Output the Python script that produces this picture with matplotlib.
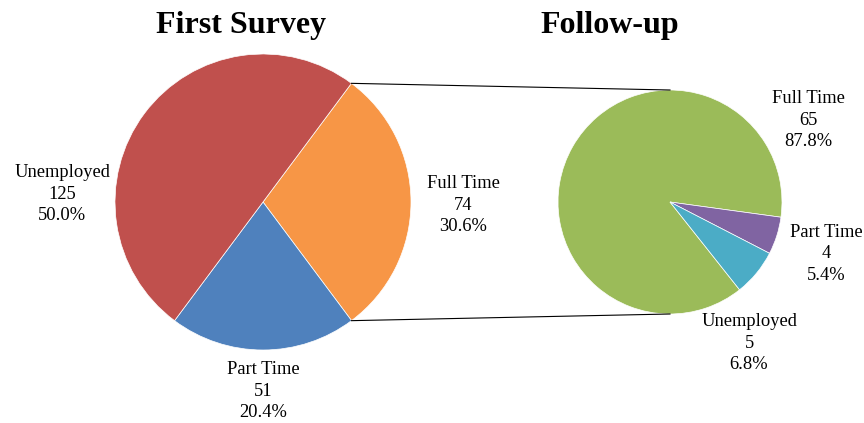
import matplotlib as mpl
mpl.use('Agg')
import matplotlib.pyplot as plt
import numpy as np

# data
first_labels = ['Full Time', 'Part Time', 'Unemployed']
first_values = [74, 51, 125]
first_pcts = ['30.6%', '20.4%', '50.0%']
first_colors = ['#F79646', '#4F81BD', '#C0504D']

follow_labels = ['Full Time', 'Part Time', 'Unemployed']
follow_values = [65, 4, 5]
follow_pcts = ['87.8%', '5.4%', '6.8%']
follow_colors = ['#9BBB59', '#8064A2', '#4BACC6']

W, H = 864, 423
fig = plt.figure(figsize=(W / 100, H / 100), dpi=100)
ax = fig.add_axes([0, 0, 1, 1])

def py(y):
    # pixel row -> data y
    return H - y

c1 = (263, py(202))
r1 = 148
c2 = (670, py(202))
r2 = 112

ax.pie(first_values, colors=first_colors, startangle=53.3,
       counterclock=False, center=c1, radius=r1,
       wedgeprops=dict(edgecolor='white', linewidth=0.5))
ax.pie(follow_values, colors=follow_colors, startangle=-51.6,
       counterclock=False, center=c2, radius=r2,
       wedgeprops=dict(edgecolor='white', linewidth=0.5))
ax.set_xlim(0, W)
ax.set_ylim(0, H)
ax.set_aspect('equal')
ax.axis('off')

# connector lines from the Full Time wedge to the follow-up pie
a = np.deg2rad(53.3)
ax.plot([c1[0] + r1 * np.cos(a), c2[0]], [c1[1] + r1 * np.sin(a), c2[1] + r2],
        color='black', lw=0.8)
ax.plot([c1[0] + r1 * np.cos(a), c2[0]], [c1[1] - r1 * np.sin(a), c2[1] - r2],
        color='black', lw=0.8)

font = dict(family='Liberation Serif', fontsize=13.3, ha='center', va='center',
            linespacing=1.38)

pos1 = [(463, 205), (263, 391), (62, 194)]
for (x, y), lab, v, p in zip(pos1, first_labels, first_values, first_pcts):
    ax.text(x, py(y), '{}\n{}\n{}'.format(lab, v, p), **font)

pos2 = [(808, 120), (826, 254), (749, 343)]
for (x, y), lab, v, p in zip(pos2, follow_labels, follow_values, follow_pcts):
    ax.text(x, py(y), '{}\n{}\n{}'.format(lab, v, p), **font)

ax.text(241, py(25), 'First Survey', family='Liberation Serif', fontsize=23,
        fontweight='bold', ha='center', va='center')
ax.text(610, py(25), 'Follow-up', family='Liberation Serif', fontsize=23,
        fontweight='bold', ha='center', va='center')

plt.savefig('out.png', dpi=100)
